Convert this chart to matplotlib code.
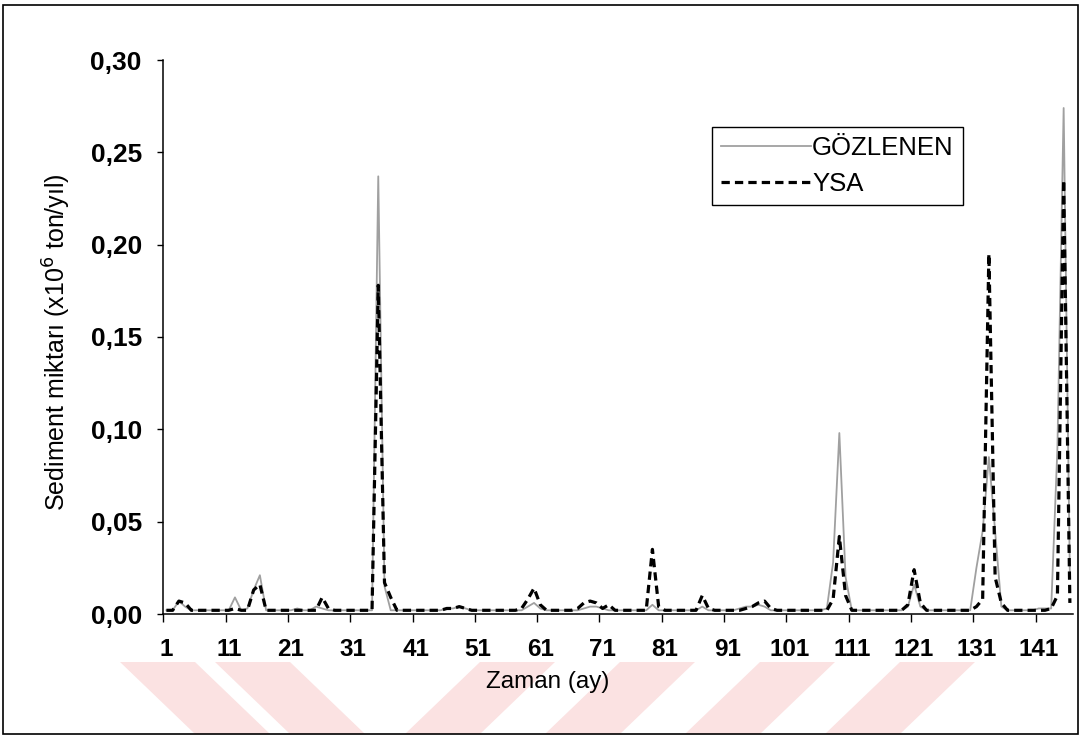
import matplotlib

matplotlib.use("Agg")
import matplotlib.pyplot as plt  # noqa: E402
from matplotlib.patches import Polygon, Rectangle  # noqa: E402

plt.rcParams["font.family"] = ["Liberation Sans", "DejaVu Sans"]

# Monthly sediment load, observed vs. ANN (YSA) estimate, x10^6 ton/yil
months = list(range(1, 147))
gozlenen = [
    0.002, 0.002, 0.007, 0.004, 0.002, 0.002, 0.002, 0.002, 0.002, 0.002,
    0.002, 0.009, 0.002, 0.003, 0.013, 0.021, 0.002, 0.002, 0.002, 0.002,
    0.002, 0.003, 0.002, 0.002, 0.004, 0.003, 0.002, 0.002, 0.002, 0.002,
    0.002, 0.002, 0.002, 0.002, 0.237, 0.015, 0.002, 0.002, 0.002, 0.002,
    0.002, 0.002, 0.002, 0.002, 0.002, 0.003, 0.003, 0.004, 0.003, 0.002,
    0.002, 0.002, 0.002, 0.002, 0.002, 0.002, 0.002, 0.002, 0.004, 0.006,
    0.003, 0.002, 0.002, 0.002, 0.002, 0.002, 0.002, 0.003, 0.004, 0.004,
    0.003, 0.002, 0.002, 0.002, 0.002, 0.002, 0.002, 0.002, 0.005, 0.002,
    0.002, 0.002, 0.002, 0.002, 0.002, 0.002, 0.004, 0.002, 0.002, 0.002,
    0.002, 0.002, 0.003, 0.004, 0.004, 0.005, 0.004, 0.002, 0.002, 0.002,
    0.002, 0.002, 0.002, 0.002, 0.002, 0.002, 0.003, 0.028, 0.098, 0.020,
    0.002, 0.002, 0.002, 0.002, 0.002, 0.002, 0.002, 0.002, 0.002, 0.004,
    0.016, 0.004, 0.002, 0.002, 0.002, 0.002, 0.002, 0.002, 0.002, 0.002,
    0.025, 0.045, 0.085, 0.045, 0.004, 0.002, 0.002, 0.002, 0.002, 0.002,
    0.003, 0.003, 0.003, 0.090, 0.274, 0.020,
]
ysa = [
    0.002, 0.002, 0.007, 0.006, 0.002, 0.002, 0.002, 0.002, 0.002, 0.002,
    0.002, 0.003, 0.002, 0.002, 0.013, 0.016, 0.002, 0.002, 0.002, 0.002,
    0.002, 0.002, 0.002, 0.002, 0.002, 0.009, 0.003, 0.002, 0.002, 0.002,
    0.002, 0.002, 0.002, 0.002, 0.178, 0.017, 0.009, 0.002, 0.002, 0.002,
    0.002, 0.002, 0.002, 0.002, 0.002, 0.003, 0.003, 0.004, 0.003, 0.002,
    0.002, 0.002, 0.002, 0.002, 0.002, 0.002, 0.002, 0.003, 0.008, 0.014,
    0.005, 0.002, 0.002, 0.002, 0.002, 0.002, 0.003, 0.006, 0.007, 0.006,
    0.003, 0.005, 0.002, 0.002, 0.002, 0.002, 0.002, 0.002, 0.035, 0.004,
    0.002, 0.002, 0.002, 0.002, 0.002, 0.002, 0.010, 0.003, 0.002, 0.002,
    0.002, 0.002, 0.002, 0.003, 0.004, 0.006, 0.007, 0.003, 0.002, 0.002,
    0.002, 0.002, 0.002, 0.002, 0.002, 0.002, 0.002, 0.008, 0.042, 0.010,
    0.002, 0.002, 0.002, 0.002, 0.002, 0.002, 0.002, 0.002, 0.002, 0.005,
    0.024, 0.006, 0.002, 0.002, 0.002, 0.002, 0.002, 0.002, 0.002, 0.002,
    0.004, 0.008, 0.195, 0.020, 0.006, 0.002, 0.002, 0.002, 0.002, 0.002,
    0.002, 0.002, 0.003, 0.010, 0.235, 0.006,
]
x_labels = list(range(1, 142, 10))
y_ticks = [0.00, 0.05, 0.10, 0.15, 0.20, 0.25, 0.30]

W, H = 1082, 739
fig = plt.figure(figsize=(W / 100, H / 100), dpi=100)


def px(x, y):
    """Pixel position (from top-left) to figure fraction."""
    return (x / W, 1 - y / H)


# pale diagonal stripes of the page watermark along the bottom edge
band_top, band_bot, shift = 662, 734, 75
back_bands = [(120, 195), (215, 290)]
fwd_bands = [(480, 555), (620, 695), (760, 835), (900, 975)]
for x0, x1 in back_bands:
    pts = [px(x0, band_top), px(x1, band_top), px(x1 + shift, band_bot), px(x0 + shift, band_bot)]
    fig.patches.append(Polygon(pts, closed=True, transform=fig.transFigure,
                               facecolor="#fbe2e2", edgecolor="none", zorder=-5))
for x0, x1 in fwd_bands:
    pts = [px(x0, band_top), px(x1, band_top), px(x1 - shift, band_bot), px(x0 - shift, band_bot)]
    fig.patches.append(Polygon(pts, closed=True, transform=fig.transFigure,
                               facecolor="#fbe2e2", edgecolor="none", zorder=-5))

ax = fig.add_axes([163.3 / W, 1 - 614 / H, 909.7 / W, 554 / H])
ax.patch.set_alpha(0)

ax.plot(months, gozlenen, color="#a0a0a0", lw=1.3, label="GÖZLENEN", zorder=2)
(ysa_line,) = ax.plot(months, ysa, color="black", lw=2.3, label="YSA", zorder=3)
ysa_line.set_dashes((2.6, 1.6))

ax.set_xlim(0.5, len(months) + 0.5)
ax.set_ylim(0, 0.30)

# category axis: tick marks on category boundaries, labels on the categories
ax.set_xticks([m - 0.5 for m in x_labels])
ax.set_xticklabels([])
ax.set_xticks(x_labels, [str(m) for m in x_labels], minor=True)
ax.tick_params(axis="x", which="major", direction="out", length=6, width=1)
ax.tick_params(axis="x", which="minor", length=0, pad=17, labelsize=17.5)
ax.set_yticks(y_ticks, [f"{v:.2f}".replace(".", ",") for v in y_ticks])
ax.tick_params(axis="y", direction="out", length=4.5, width=1, pad=11, labelsize=19)
for lab in ax.get_xticklabels(minor=True) + ax.get_yticklabels():
    lab.set_fontweight("bold")

for side in ("top", "right"):
    ax.spines[side].set_visible(False)
for side in ("left", "bottom"):
    ax.spines[side].set_linewidth(1.1)

ax.set_xlabel("Zaman (ay)", fontsize=17.5)
ax.xaxis.set_label_coords(0.423, -0.103)
ax.set_ylabel("Sediment miktarı (x10$^6$ ton/yıl)", fontsize=18)
ax.yaxis.set_label_coords(-0.099, 0.49)

leg = ax.legend(
    loc="upper left",
    bbox_to_anchor=px(712, 127),
    bbox_transform=fig.transFigure,
    borderaxespad=0,
    fancybox=False,
    framealpha=1,
    edgecolor="black",
    fontsize=18.5,
    handlelength=3.5,
    handletextpad=0.05,
    borderpad=0.35,
    labelspacing=0.45,
)
leg.get_frame().set_linewidth(1.0)

# outer chart border
fig.patches.append(
    Rectangle((3 / W, 5 / H), 1075 / W, 729 / H, transform=fig.transFigure,
              fill=False, edgecolor="black", lw=1.2)
)

fig.savefig("out.png", dpi=100)
